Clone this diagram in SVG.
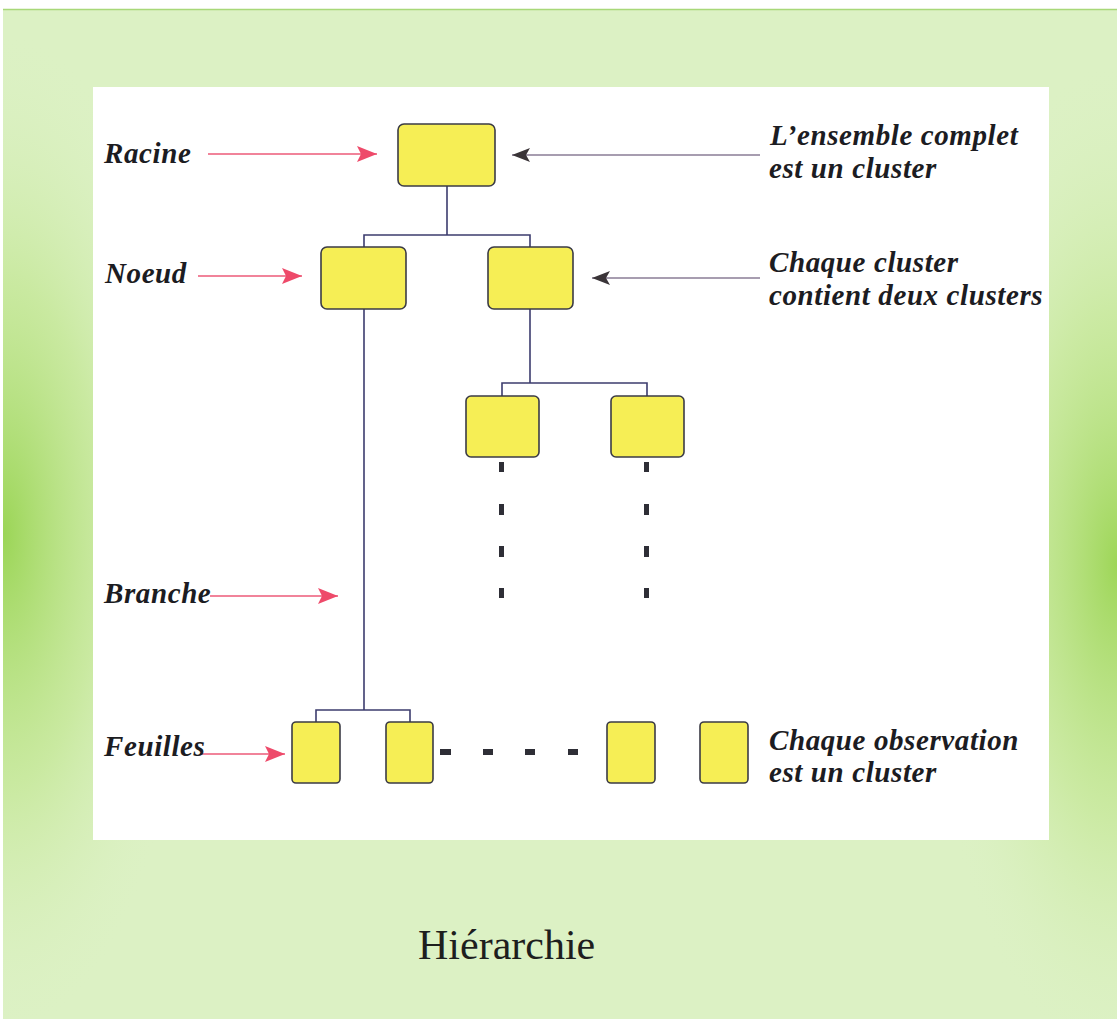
<svg xmlns="http://www.w3.org/2000/svg" width="1117" height="1019" viewBox="0 0 1117 1019">
  <defs>
    <radialGradient id="glowL" cx="0" cy="0.52" r="0.5" gradientTransform="translate(0,0) scale(0.35,1)">
      <stop offset="0" stop-color="#9bd556"/>
      <stop offset="0.5" stop-color="#bde489" stop-opacity="0.6"/>
      <stop offset="1" stop-color="#dcf1c4" stop-opacity="0"/>
    </radialGradient>
    <radialGradient id="glowR" cx="1" cy="0.55" r="0.5" gradientTransform="translate(0.65,0) scale(0.35,1)">
      <stop offset="0" stop-color="#9ed658"/>
      <stop offset="0.5" stop-color="#c0e58d" stop-opacity="0.6"/>
      <stop offset="1" stop-color="#dcf1c4" stop-opacity="0"/>
    </radialGradient>
    <marker id="redHead" viewBox="0 0 20 16" refX="20" refY="8" markerWidth="20" markerHeight="16" markerUnits="userSpaceOnUse" orient="auto">
      <path d="M0,0 L20,8 L0,16 L4,8 Z" fill="#ee4a6a"/>
    </marker>
    <marker id="darkHead" viewBox="0 0 18 14" refX="18" refY="7" markerWidth="18" markerHeight="14" markerUnits="userSpaceOnUse" orient="auto">
      <path d="M0,0 L18,7 L0,14 L4,7 Z" fill="#3a3438"/>
    </marker>
  </defs>
  <style>
    .node { fill: #f6ee55; stroke: #3b3b45; stroke-width: 1.6; }
    .link { fill: none; stroke: #3c3c6e; stroke-width: 1.6; }
    .red { fill: none; stroke: #ec5a78; stroke-width: 1.6; marker-end: url(#redHead); }
    .gray { fill: none; stroke: #8a7c96; stroke-width: 1.4; marker-end: url(#darkHead); }
    .dot { fill: #2e2e36; }
    .lbl { font-family: "Liberation Serif", "Times New Roman", serif; font-weight: bold; font-style: italic; font-size: 29px; letter-spacing: 0.6px; fill: #1c1c22; }
    .title { font-family: "Liberation Serif", "Times New Roman", serif; font-size: 42px; fill: #1e1e1e; }
  </style>

  <!-- page background -->
  <rect x="0" y="0" width="1117" height="1019" fill="#ffffff"/>
  <rect x="3" y="9" width="1114" height="1010" fill="#dcf1c4"/>
  <rect x="3" y="9" width="1114" height="1010" fill="url(#glowL)"/>
  <rect x="3" y="9" width="1114" height="1010" fill="url(#glowR)"/>
  <line x1="3" y1="9.5" x2="1117" y2="9.5" stroke="#a8d878" stroke-width="1.5"/>

  <!-- white panel -->
  <rect x="93" y="87" width="956" height="753" fill="#ffffff"/>

  <!-- tree connectors and pointer arrows -->
  <g id="connectors">
    <path class="link" d="M447,186 V235 M364,247 V235 H530 V247"/>
    <path class="link" d="M364,309 V710 M316,722 V710 H410 V722"/>
    <path class="link" d="M530,309 V383 M502,396 V383 H647 V396"/>

    <!-- continuation dots under the second-level clusters -->
    <rect class="dot" x="499" y="462" width="5" height="10"/>
    <rect class="dot" x="499" y="504" width="5" height="11"/>
    <rect class="dot" x="499" y="546" width="5" height="11"/>
    <rect class="dot" x="499" y="588" width="5" height="10"/>
    <rect class="dot" x="644" y="462" width="5" height="10"/>
    <rect class="dot" x="644" y="504" width="5" height="11"/>
    <rect class="dot" x="644" y="546" width="5" height="11"/>
    <rect class="dot" x="644" y="588" width="5" height="10"/>

    <!-- continuation dots between leaves -->
    <rect class="dot" x="440" y="749" width="11" height="6"/>
    <rect class="dot" x="483" y="749" width="10" height="6"/>
    <rect class="dot" x="525" y="749" width="10" height="6"/>
    <rect class="dot" x="568" y="749" width="10" height="6"/>

    <line class="red" x1="208" y1="154" x2="377" y2="154"/>
    <line class="red" x1="198" y1="276" x2="302" y2="276"/>
    <line class="red" x1="210" y1="596" x2="338" y2="596"/>
    <line class="red" x1="200" y1="754" x2="285" y2="754"/>

    <line class="gray" x1="760" y1="155" x2="512" y2="155"/>
    <line class="gray" x1="760" y1="278" x2="592" y2="278"/>
  </g>

  <!-- clusters -->
  <g id="root"><rect class="node" x="398" y="124" width="97" height="62" rx="6"/></g>
  <g id="node-left"><rect class="node" x="321" y="247" width="85" height="62" rx="6"/></g>
  <g id="node-right"><rect class="node" x="488" y="247" width="85" height="62" rx="6"/></g>
  <g id="child-a"><rect class="node" x="466" y="396" width="73" height="61" rx="5"/></g>
  <g id="child-b"><rect class="node" x="611" y="396" width="73" height="61" rx="5"/></g>
  <g id="leaf-1"><rect class="node" x="292" y="722" width="48" height="61" rx="4"/></g>
  <g id="leaf-2"><rect class="node" x="386" y="722" width="47" height="61" rx="4"/></g>
  <g id="leaf-3"><rect class="node" x="607" y="722" width="48" height="61" rx="4"/></g>
  <g id="leaf-4"><rect class="node" x="700" y="722" width="48" height="61" rx="4"/></g>

  <!-- labels -->
  <g id="labels">
    <text class="lbl" x="104" y="163">Racine</text>
    <text class="lbl" x="105" y="283">Noeud</text>
    <text class="lbl" x="104" y="603">Branche</text>
    <text class="lbl" x="104" y="756">Feuilles</text>
    <text class="lbl" x="770" y="145">L’ensemble complet</text>
    <text class="lbl" x="769" y="178">est un cluster</text>
    <text class="lbl" x="769" y="272">Chaque cluster</text>
    <text class="lbl" x="769" y="305">contient deux clusters</text>
    <text class="lbl" x="769" y="750">Chaque observation</text>
    <text class="lbl" x="769" y="782">est un cluster</text>
  </g>

  <text class="title" x="418" y="959">Hiérarchie</text>
</svg>
